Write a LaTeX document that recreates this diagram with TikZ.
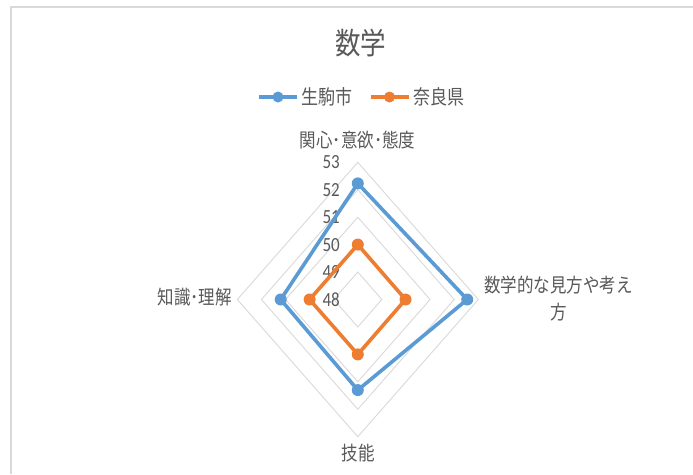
\documentclass[tikz,border=0pt]{standalone}
\usepackage{fontspec}
\newfontfamily\jp{Noto Sans CJK JP}
\newfontfamily\num{Carlito}
\definecolor{gridc}{HTML}{D9D9D9}
\definecolor{txt}{HTML}{595959}
\definecolor{blueS}{HTML}{5B9BD5}
\definecolor{orangeS}{HTML}{ED7D31}
\newcommand\vst[1]{\scalebox{1}[1.18]{#1}}
\begin{document}
\begin{tikzpicture}[x=1pt,y=-1pt,
  gridline/.style={gridc,line width=0.9pt},
  series/.style={line width=3.6pt,line join=round},
  dot/.style={circle,fill=#1,inner sep=0pt,minimum size=12pt},
  ldot/.style={circle,fill=#1,inner sep=0pt,minimum size=11pt},
  cat/.style={text=txt,inner sep=0pt,font=\jp\fontsize{16.5}{26.7}\selectfont},
  tick/.style={text=txt,inner sep=0pt,anchor=east,font=\num\fontsize{17}{18}\selectfont},
  leg/.style={text=txt,inner sep=0pt,anchor=west,font=\jp\fontsize{17}{19}\selectfont}]
\useasboundingbox (0,0) rectangle (693,474);
\fill[white] (0,0) rectangle (693,474);
% frame
\draw[gridc,line width=1.5pt] (10.8,474) -- (10.8,6.8) -- (693,6.8);
% title
\node[text=txt,inner sep=0pt,font=\jp\fontsize{25.5}{28}\selectfont] (title) at (360.5,43.5) {\vst{数学}};
% legend
\coordinate (lb1) at (259,97); \coordinate (lb2) at (297,97);
\draw[blueS,line width=3.8pt] (lb1) -- (lb2);
\node[ldot=blueS] (lbd) at (278,97) {};
\node[leg] (lbt) at (301,97) {\vst{生駒市}};
\coordinate (lo1) at (370.5,97); \coordinate (lo2) at (408.5,97);
\draw[orangeS,line width=3.8pt] (lo1) -- (lo2);
\node[ldot=orangeS] (lod) at (389.5,97) {};
\node[leg] (lot) at (413,97) {\vst{奈良県}};
% grid
\coordinate (c) at (357.8,299.5);
\foreach \k in {1,...,5}{
  \draw[gridline,shift={(357.8,299.5)}] (0,-\k*27.44) -- (\k*24.1,0) -- (0,\k*27.44) -- (-\k*24.1,0) -- cycle;
}
% ticks
\foreach \k/\v in {0/48,1/49,2/50,3/51,4/52,5/53}{
  \node[tick] (t\v) at (340,299.5-\k*27.44) {\vst{\v}};
}
% category labels
\node[cat] (catA) at (357.5,140.5) {\vst{関心･意欲･態度}};
\node[cat,align=center] (catB) at (558.5,298.5) {\vst{数学的な見方や考え}\\\vst{方}};
\node[cat] (catC) at (358.3,453.3) {\vst{技能}};
\node[cat,anchor=east] (catD) at (232,297) {\vst{知識･理解}};
% series blue
\coordinate (b1) at (357.8,183.4);
\coordinate (b2) at (467.2,299.5);
\coordinate (b3) at (357.8,390.1);
\coordinate (b4) at (280.7,299.5);
\draw[series,blueS] (b1) -- (b2) -- (b3) -- (b4) -- cycle;
\foreach \p in {b1,b2,b3,b4} \node[dot=blueS] at (\p) {};
% series orange
\coordinate (o1) at (357.8,244.6);
\coordinate (o2) at (405.5,299.5);
\coordinate (o3) at (357.8,354.4);
\coordinate (o4) at (309.6,299.5);
\draw[series,orangeS] (o1) -- (o2) -- (o3) -- (o4) -- cycle;
\foreach \p in {o1,o2,o3,o4} \node[dot=orangeS] at (\p) {};
\end{tikzpicture}
\end{document}
